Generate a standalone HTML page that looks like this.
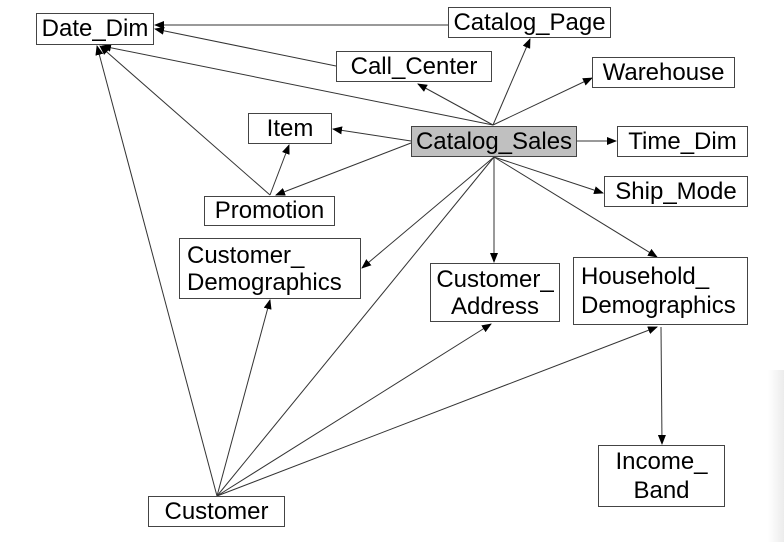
<!DOCTYPE html>
<html><head><style>
body{margin:0;width:784px;height:542px;background:#fff;overflow:hidden;position:relative;font-family:"Liberation Sans",Arial,sans-serif}
.b{position:absolute;border:1px solid #444;background:#fff;box-sizing:border-box;font-size:24px;line-height:24px;color:#000;display:flex;align-items:center;justify-content:center;text-align:center;white-space:nowrap}
svg{position:absolute;left:0;top:0}
.fade{position:absolute;left:768px;top:370px;width:16px;height:172px;background:linear-gradient(to right,#fff,#ececec)}
</style></head><body>
<div class="fade"></div>
<svg width="784" height="542">
<defs><marker id="a" markerWidth="10" markerHeight="8" refX="9" refY="4" orient="auto" markerUnits="userSpaceOnUse"><path d="M0,0 L10,4 L0,8z" fill="#000"/></marker></defs>
<g stroke="#333" stroke-width="1" fill="none" marker-end="url(#a)">
<line x1="448" y1="25" x2="155" y2="25"/>
<line x1="336" y1="66" x2="155" y2="29"/>
<line x1="493" y1="125" x2="102" y2="46"/>
<line x1="493" y1="125" x2="418" y2="84"/>
<line x1="493" y1="125" x2="530" y2="39"/>
<line x1="493" y1="125" x2="592" y2="78"/>
<line x1="577" y1="141" x2="616" y2="141"/>
<line x1="494" y1="157" x2="603" y2="193"/>
<line x1="411" y1="141" x2="333" y2="129"/>
<line x1="411" y1="143" x2="276" y2="195"/>
<line x1="270" y1="195" x2="289" y2="145"/>
<line x1="270" y1="195" x2="100" y2="46"/>
<line x1="494" y1="157" x2="362" y2="268"/>
<line x1="494" y1="157" x2="494" y2="262"/>
<line x1="494" y1="157" x2="657" y2="257"/>
<line x1="217" y1="496" x2="97" y2="46"/>
<line x1="217" y1="496" x2="270" y2="300"/>
<line x1="217" y1="496" x2="491" y2="324"/>
<line x1="217" y1="496" x2="657" y2="327"/>
<line x1="661" y1="327" x2="662" y2="444"/>
</g>
<line x1="494" y1="157" x2="217" y2="496" stroke="#333" stroke-width="1"/>
</svg>
<div class="b" style="left:36px;top:13px;width:118px;height:32px">Date_Dim</div>
<div class="b" style="left:448px;top:7px;width:163px;height:31px">Catalog_Page</div>
<div class="b" style="left:336px;top:51px;width:156px;height:31px">Call_Center</div>
<div class="b" style="left:592px;top:57px;width:143px;height:31px">Warehouse</div>
<div class="b" style="left:248px;top:113px;width:84px;height:31px">Item</div>
<div class="b" style="left:411px;top:126px;width:166px;height:31px;background:#c0c0c0">Catalog_Sales</div>
<div class="b" style="left:617px;top:126px;width:131px;height:31px">Time_Dim</div>
<div class="b" style="left:604px;top:176px;width:144px;height:31px">Ship_Mode</div>
<div class="b" style="left:204px;top:196px;width:131px;height:30px">Promotion</div>
<div class="b" style="left:179px;top:238px;width:182px;height:61px;justify-content:flex-start;padding-left:7px;text-align:left;line-height:27px">Customer_<br>Demographics</div>
<div class="b" style="left:430px;top:263px;width:130px;height:59px;line-height:27px">Customer_<br>Address</div>
<div class="b" style="left:573px;top:257px;width:175px;height:68px;justify-content:flex-start;padding-left:7px;text-align:left;line-height:29px">Household_<br>Demographics</div>
<div class="b" style="left:598px;top:445px;width:127px;height:62px;line-height:29px">Income_<br>Band</div>
<div class="b" style="left:148px;top:496px;width:137px;height:31px">Customer</div>
</body></html>
